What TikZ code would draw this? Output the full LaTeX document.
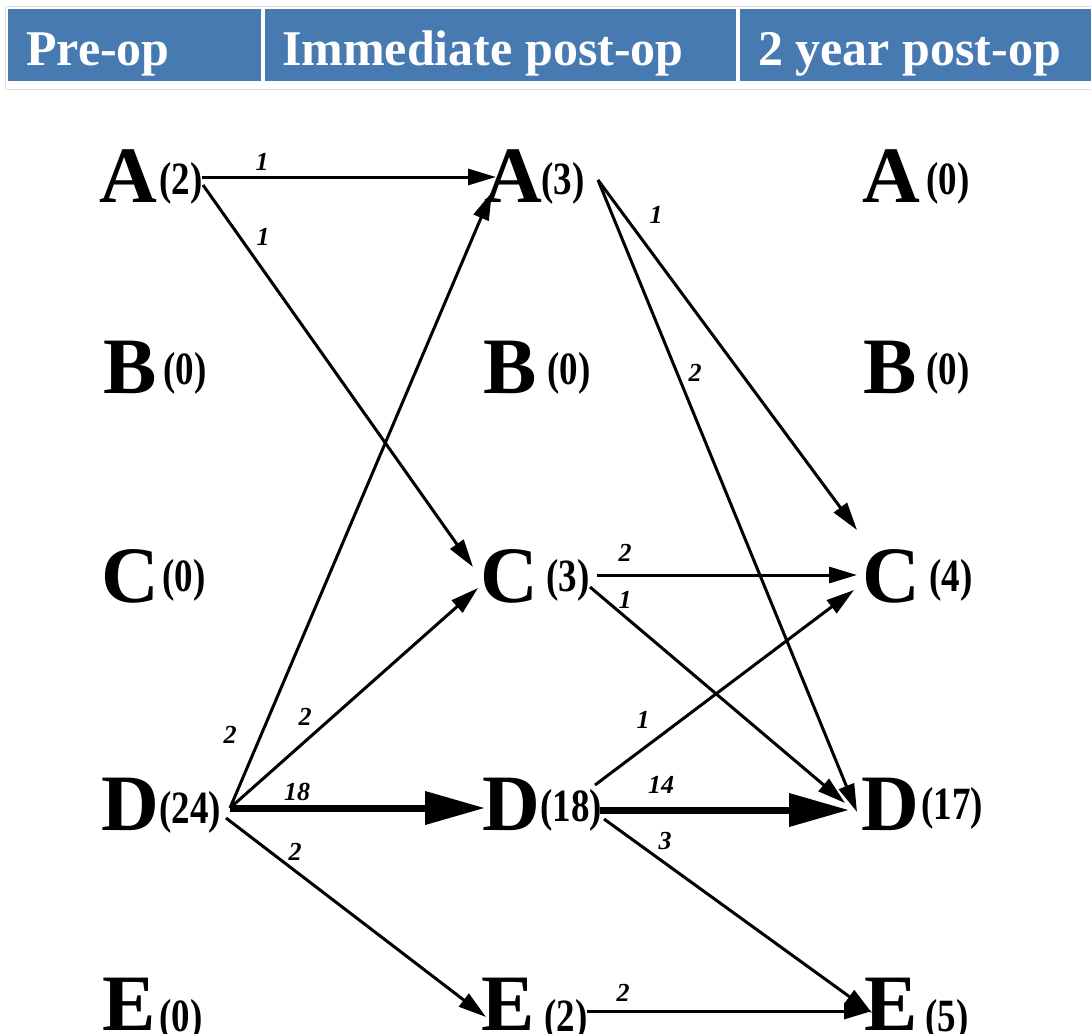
\documentclass[tikz,border=0pt]{standalone}
\usepackage{fontspec}
\setmainfont{Liberation Serif}
\usepackage{graphicx}
\usetikzlibrary{arrows.meta}
\definecolor{hdrblue}{RGB}{71,122,176}
\definecolor{hdrline}{RGB}{222,222,222}
\begin{document}
\begin{tikzpicture}[x=1pt,y=-1pt,
  letter/.style={anchor=base,inner sep=0pt,font=\fontsize{80}{80}\selectfont\bfseries},
  count/.style={inner sep=0pt,font=\fontsize{37}{37}\selectfont\bfseries},
  wlabel/.style={inner sep=0pt,font=\fontsize{26}{26}\selectfont\bfseries\itshape},
  hdr/.style={anchor=base west,inner sep=0pt,text=white,font=\fontsize{50}{50}\selectfont\bfseries},
  flowthin/.style={line width=3pt,-{Triangle[length=28pt,width=16pt]}},
  flowthick/.style={line width=7pt,-{Triangle[length=60pt,width=32pt]}}
]
\useasboundingbox (0,0) rectangle (1091,1033);
\fill[white] (0,0) rectangle (1091,1033);
% header
\draw[hdrline,line width=0.8pt] (5,6) rectangle (1100,89);
\fill[hdrblue] (8,9) rectangle (261,81);
\fill[hdrblue] (265,9) rectangle (736,81);
\fill[hdrblue] (740,9) rectangle (1100,81);
\node[hdr] (h1) at (26,66) {Pre-op};
\node[hdr] (h2) at (282,66) {Immediate post-op};
\node[hdr] (h3) at (758,66) {2 year post-op};
\newcommand{\cnt}[1]{\scalebox{1}[1.25]{#1}}
% column 1
\node[letter] (lA1) at (128,202) {A};
\node[letter] (lB1) at (130,393) {B};
\node[letter] (lC1) at (130,602) {C};
\node[letter] (lD1) at (130,830) {D};
\node[letter] (lE1) at (129,1030) {E};
\node[count] (nA1) at (181,183) {\cnt{(2)}};
\node[count] (nB1) at (185,373) {\cnt{(0)}};
\node[count] (nC1) at (184,580) {\cnt{(0)}};
\node[count] (nD1) at (190,812) {\cnt{(24)}};
\node[count] (nE1) at (181,1020) {\cnt{(0)}};
% column 2
\node[letter] (lA2) at (513,202) {A};
\node[letter] (lB2) at (510,393) {B};
\node[letter] (lC2) at (509,602) {C};
\node[letter] (lD2) at (511,830) {D};
\node[letter] (lE2) at (508,1030) {E};
\node[count] (nA2) at (563,183) {\cnt{(3)}};
\node[count] (nB2) at (569,373) {\cnt{(0)}};
\node[count] (nC2) at (568,580) {\cnt{(3)}};
\node[count] (nD2) at (571,810) {\cnt{(18)}};
\node[count] (nE2) at (566,1020) {\cnt{(2)}};
% column 3
\node[letter] (lA3) at (891,202) {A};
\node[letter] (lB3) at (890,393) {B};
\node[letter] (lC3) at (891,602) {C};
\node[letter] (lD3) at (890,830) {D};
\node[letter] (lE3) at (891,1030) {E};
\node[count] (nA3) at (948,183) {\cnt{(0)}};
\node[count] (nB3) at (948,373) {\cnt{(0)}};
\node[count] (nC3) at (951,580) {\cnt{(4)}};
\node[count] (nD3) at (952,808) {\cnt{(17)}};
\node[count] (nE3) at (947,1020) {\cnt{(5)}};
% connector end points
\coordinate (sA1a) at (202,177);
\coordinate (sA1b) at (203,185);
\coordinate (sD1) at (230,808);
\coordinate (sD1b) at (226,818);
\coordinate (tA2a) at (496,177);
\coordinate (tA2b) at (492,192);
\coordinate (tC2a) at (473,567);
\coordinate (tC2b) at (478,588);
\coordinate (tD2) at (485,808);
\coordinate (tE2) at (486,1017);
\coordinate (sA2) at (598,180);
\coordinate (sC2a) at (597,575);
\coordinate (sC2b) at (590,587);
\coordinate (sD2a) at (595,785);
\coordinate (sD2b) at (600,810);
\coordinate (sD2c) at (604,819);
\coordinate (sE2) at (587,1011);
\coordinate (tC3a) at (857,530);
\coordinate (tC3b) at (857,575);
\coordinate (tC3c) at (854,590);
\coordinate (tD3a) at (857,812);
\coordinate (tD3b) at (845,803);
\coordinate (tD3c) at (849,810);
\coordinate (tE3a) at (872,1013);
\coordinate (tE3b) at (872,1011);
% connectors
\draw[flowthin] (sA1a) -- (tA2a);
\draw[flowthin] (sA1b) -- (tC2a);
\draw[flowthin] (sD1) -- (tA2b);
\draw[flowthin] (sD1) -- (tC2b);
\draw[flowthick] (sD1) -- (tD2);
\draw[flowthin] (sD1b) -- (tE2);
\draw[flowthin] (sA2) -- (tC3a);
\draw[flowthin] (sA2) -- (tD3a);
\draw[flowthin] (sC2a) -- (tC3b);
\draw[flowthin] (sC2b) -- (tD3b);
\draw[flowthin] (sD2a) -- (tC3c);
\draw[flowthick] (sD2b) -- (tD3c);
\draw[flowthin] (sD2c) -- (tE3a);
\draw[flowthin] (sE2) -- (tE3b);
% connector labels
\node[wlabel] (w1) at (262,162) {1};
\node[wlabel] (w2) at (263,237) {1};
\node[wlabel] (w3) at (230,735) {2};
\node[wlabel] (w4) at (305,717) {2};
\node[wlabel] (w5) at (297,792) {18};
\node[wlabel] (w6) at (295,852) {2};
\node[wlabel] (w7) at (656,215) {1};
\node[wlabel] (w8) at (695,373) {2};
\node[wlabel] (w9) at (625,553) {2};
\node[wlabel] (w10) at (625,600) {1};
\node[wlabel] (w11) at (643,720) {1};
\node[wlabel] (w12) at (661,785) {14};
\node[wlabel] (w13) at (665,841) {3};
\node[wlabel] (w14) at (623,993) {2};
\end{tikzpicture}
\end{document}
